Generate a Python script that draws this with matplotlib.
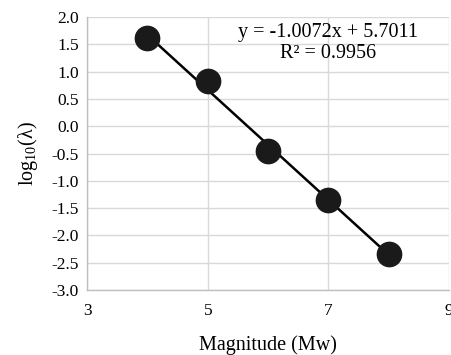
import matplotlib
matplotlib.use('Agg')
import matplotlib.pyplot as plt

plt.rcParams['font.family'] = ['Liberation Serif', 'DejaVu Serif']
plt.rcParams['mathtext.fontset'] = 'custom'
plt.rcParams['mathtext.rm'] = 'Liberation Serif'

# magnitude vs log10 of rate
magnitude = [4, 5, 6, 7, 8]
log_rate = [1.61, 0.82, -0.46, -1.35, -2.34]

# linear trendline
slope = -1.0072
intercept = 5.7011
r2 = 0.9956

fig = plt.figure(figsize=(4.51, 3.55), dpi=100)
ax = fig.add_axes([0.193, 0.183, 0.803, 0.769])

trend_x = [magnitude[0], magnitude[-1]]
trend_y = [slope * x + intercept for x in trend_x]
ax.plot(trend_x, trend_y, color='black', lw=1.8, zorder=3)
ax.plot(magnitude, log_rate, 'o', color='#1a1a1a', markersize=17.5, zorder=4)

ax.set_xlim(3, 9)
ax.set_ylim(-3, 2)
ax.set_xticks([3, 5, 7, 9])
ax.set_yticks([-3 + 0.5 * i for i in range(11)])
ax.set_yticklabels([f'{-3 + 0.5 * i:.1f}' for i in range(11)])
ax.grid(True, color='#d9d9d9', lw=1)
ax.set_axisbelow(True)
ax.tick_params(axis='y', length=0, labelsize=12.5, pad=6)
ax.tick_params(axis='x', length=0, labelsize=12.5, pad=9)
for side in ['top', 'right']:
    ax.spines[side].set_visible(False)
for side in ['left', 'bottom']:
    ax.spines[side].set_color('#bfbfbf')
    ax.spines[side].set_linewidth(1)

ax.set_xlabel('Magnitude (Mw)', fontsize=14.5, labelpad=12)
ax.set_ylabel(r'$\mathrm{log}_{10}$(λ)', fontsize=14.5, labelpad=8)

ax.text(0.665, 0.905, f'y = {slope}x + {intercept}\nR² = {r2}',
        transform=ax.transAxes, ha='center', va='center',
        fontsize=14.5, linespacing=1.1)

fig.savefig('out.png', dpi=100)
